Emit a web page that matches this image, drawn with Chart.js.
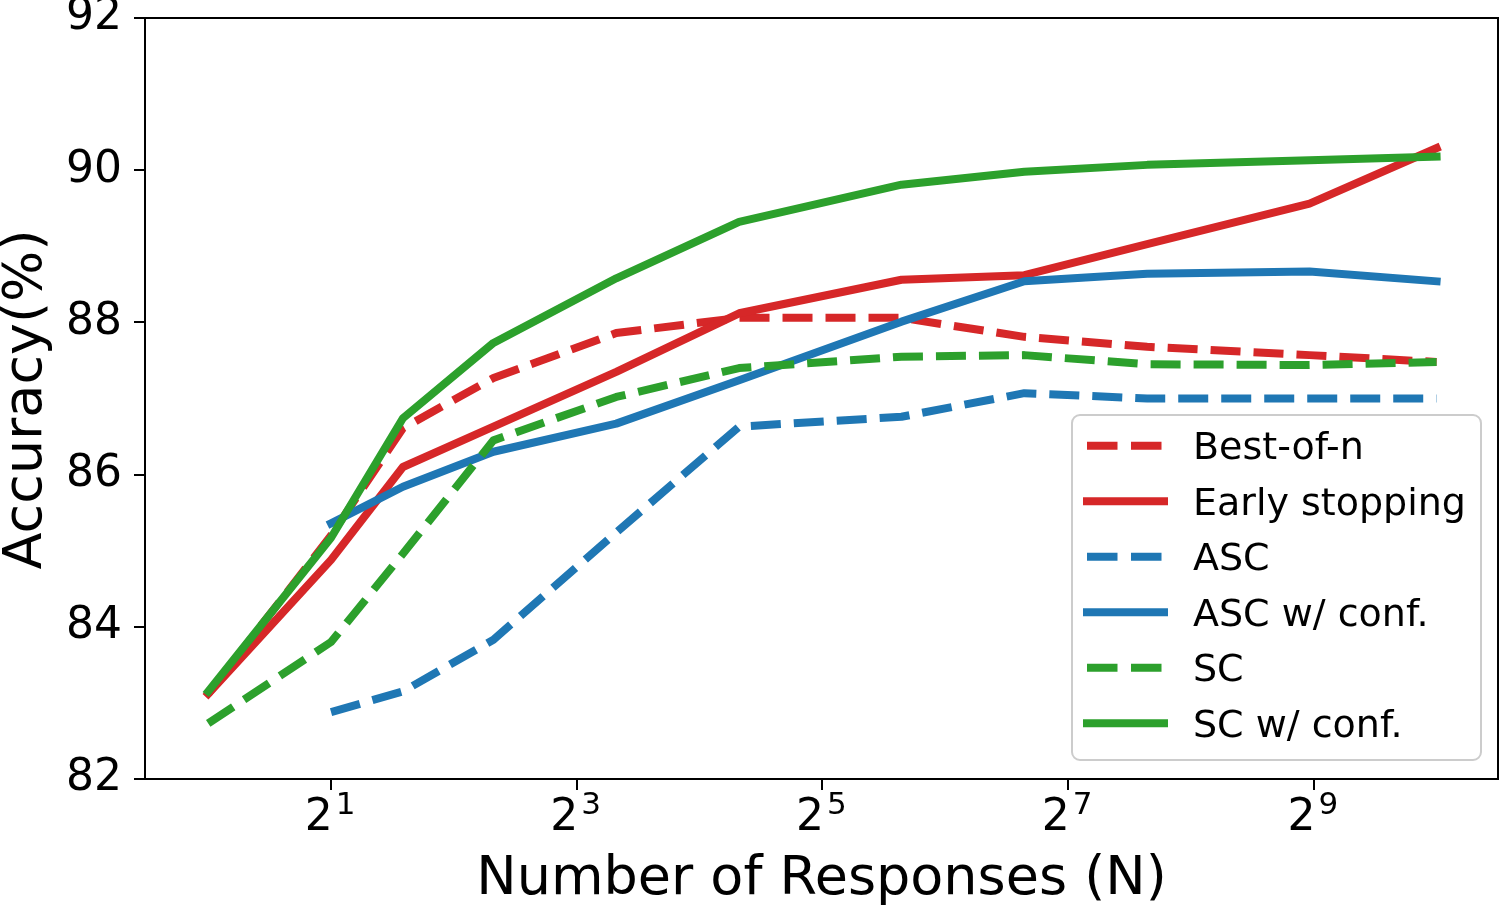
<!DOCTYPE html>
<html><head><meta charset="utf-8">
<script src="https://cdn.jsdelivr.net/npm/chart.js@4.4.1/dist/chart.umd.min.js"></script>
<style>html,body{margin:0;padding:0;background:#fff;}#wrap{width:1500px;height:909px;}</style>
</head><body><div id="wrap"><canvas id="c" width="1500" height="909"></canvas></div>
<script>
// ---- data ----
const numResponses = [1, 2, 3, 5, 10, 20, 50, 100, 200, 500, 1024];
const bestOfN      = [83.12, 85.20, 86.61, 87.27, 87.86, 88.06, 88.06, 87.81, 87.68, 87.57, 87.48];
const earlyStop    = [83.12, 84.88, 86.10, 86.63, 87.35, 88.12, 88.56, 88.62, 89.03, 89.56, 90.29];
const ascVals      = [null, 82.88, 83.15, 83.83, 85.24, 86.63, 86.76, 87.07, 87.00, 87.00, 87.00];
const ascConf      = [null, 85.36, 85.84, 86.30, 86.67, 87.24, 88.01, 88.54, 88.64, 88.67, 88.54];
const scVals       = [82.73, 83.80, 84.96, 86.45, 87.02, 87.40, 87.55, 87.57, 87.45, 87.44, 87.48];
const scConf       = [83.15, 85.17, 86.74, 87.73, 88.58, 89.32, 89.81, 89.98, 90.07, 90.13, 90.18];
const seriesLabels = ['Best-of-n', 'Early stopping', 'ASC', 'ASC w/ conf.', 'SC', 'SC w/ conf.'];
const xTickExps    = [1, 3, 5, 7, 9];
const yTicks       = [82, 84, 86, 88, 90, 92];
const xTitle = 'Number of Responses (N)';
const yTitle = 'Accuracy(%)';

const RED = '#d62728', BLUE = '#1f77b4', GREEN = '#2ca02c';
const FONT = "'DejaVu Sans', sans-serif";
const DASH = [30, 13];

function mk(label, vals, color, dashed, idx) {
  return {
    label, data: numResponses.map((n, i) => ({x: n, y: vals[i]})),
    borderColor: color, backgroundColor: color, borderWidth: 8,
    borderDash: dashed ? DASH : [], borderCapStyle: dashed ? 'butt' : 'square',
    borderJoinStyle: 'round', pointRadius: 0, tension: 0, fill: false,
    order: 10 - idx, _dashed: dashed
  };
}
const datasets = [
  mk(seriesLabels[0], bestOfN, RED, true, 0),
  mk(seriesLabels[1], earlyStop, RED, false, 1),
  mk(seriesLabels[2], ascVals, BLUE, true, 2),
  mk(seriesLabels[3], ascConf, BLUE, false, 3),
  mk(seriesLabels[4], scVals, GREEN, true, 4),
  mk(seriesLabels[5], scConf, GREEN, false, 5)
];

const deco = {
  id: 'deco',
  afterDraw(chart) {
    const ctx = chart.ctx, a = chart.chartArea;
    ctx.save();
    // spines
    ctx.strokeStyle = '#000'; ctx.lineWidth = 2;
    ctx.strokeRect(a.left, a.top, a.right - a.left, a.bottom - a.top);
    // x tick labels with superscripts
    const xs = chart.scales.x;
    ctx.fillStyle = '#000'; ctx.textAlign = 'left'; ctx.textBaseline = 'alphabetic';
    for (const k of xTickExps) {
      const px = xs.getPixelForValue(Math.pow(2, k));
      ctx.font = `44px ${FONT}`;
      const w2 = ctx.measureText('2').width;
      ctx.font = `31px ${FONT}`;
      const ws = ctx.measureText(String(k)).width;
      const total = w2 + 3 + ws;
      const left = px - total / 2 - 1;
      ctx.font = `44px ${FONT}`;
      ctx.fillText('2', left, 830);
      ctx.font = `31px ${FONT}`;
      ctx.fillText(String(k), left + w2 + 3, 814);
    }
    // axis titles
    ctx.font = `54px ${FONT}`;
    ctx.textAlign = 'center';
    ctx.fillText(xTitle, (a.left + a.right) / 2, 894);
    ctx.save();
    ctx.translate(41, (a.top + a.bottom) / 2 + 1);
    ctx.rotate(-Math.PI / 2);
    ctx.fillText(yTitle, 0, 0);
    ctx.restore();
    // legend
    const bx = 1072, by = 415, bw = 409, bh = 345, r = 8;
    ctx.beginPath();
    ctx.moveTo(bx + r, by); ctx.lineTo(bx + bw - r, by); ctx.arcTo(bx + bw, by, bx + bw, by + r, r);
    ctx.lineTo(bx + bw, by + bh - r); ctx.arcTo(bx + bw, by + bh, bx + bw - r, by + bh, r);
    ctx.lineTo(bx + r, by + bh); ctx.arcTo(bx, by + bh, bx, by + bh - r, r);
    ctx.lineTo(bx, by + r); ctx.arcTo(bx, by, bx + r, by, r); ctx.closePath();
    ctx.fillStyle = 'rgba(255,255,255,0.8)'; ctx.fill();
    ctx.strokeStyle = '#cccccc'; ctx.lineWidth = 2; ctx.stroke();
    chart.data.datasets.forEach((ds, i) => {
      const ry = 445.7 + i * 55.5;
      ctx.beginPath();
      ctx.strokeStyle = ds.borderColor; ctx.lineWidth = 8;
      ctx.setLineDash(ds._dashed ? [30.5, 13.5] : []);
      ctx.lineCap = ds._dashed ? 'butt' : 'square';
      ctx.moveTo(1087, ry); ctx.lineTo(1164, ry); ctx.stroke();
      ctx.setLineDash([]);
      ctx.fillStyle = '#000'; ctx.font = `38px ${FONT}`; ctx.textAlign = 'left';
      ctx.fillText(ds.label, 1193, ry + 13.3);
    });
    ctx.restore();
  }
};

new Chart(document.getElementById('c'), {
  type: 'line',
  data: {datasets},
  options: {
    responsive: false, animation: false, devicePixelRatio: 1,
    layout: {padding: {top: 18, right: 2, left: 0, bottom: 0}},
    plugins: {legend: {display: false}, tooltip: {enabled: false}},
    scales: {
      x: {
        type: 'logarithmic', min: Math.pow(2, -0.5), max: Math.pow(2, 10.5),
        afterBuildTicks: s => { s.ticks = xTickExps.map(k => ({value: Math.pow(2, k)})); },
        afterFit: s => { s.height = 130; s.paddingLeft = 0; s.paddingRight = 0; },
        ticks: {callback: () => '', autoSkip: false, maxRotation: 0},
        grid: {display: true, drawOnChartArea: false, drawTicks: true, tickLength: 11, color: '#000', lineWidth: 2},
        border: {display: true, color: '#000', width: 2}
      },
      y: {
        min: 82, max: 92,
        afterBuildTicks: s => { s.ticks = yTicks.map(v => ({value: v})); },
        afterFit: s => { s.width = 145; s.paddingTop = 0; s.paddingBottom = 0; },
        ticks: {color: '#000', font: {family: FONT, size: 44}, padding: 12, autoSkip: false},
        grid: {display: true, drawOnChartArea: false, drawTicks: true, tickLength: 11, color: '#000', lineWidth: 2},
        border: {display: true, color: '#000', width: 2}
      }
    }
  },
  plugins: [deco]
});
</script></body></html>
